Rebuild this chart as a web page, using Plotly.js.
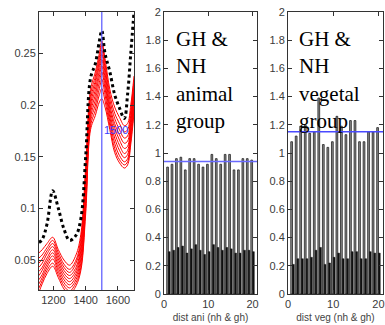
<!DOCTYPE html>
<html><head><meta charset="utf-8">
<script src="https://cdn.plot.ly/plotly-3.0.1.min.js"></script>
<style>html,body{margin:0;padding:0;background:#fff}#c{width:385px;height:325px}</style>
</head><body><div id="c"></div>
<script>
// Panel 1: spectra
const wavenumber = [1110,1130,1160,1195,1230,1265,1300,1340,1370,1400,1430,1460,1485,1500,1520,1550,1580,1610,1640,1660,1680,1700];
const meanSpectrum = [0.067,0.070,0.085,0.117,0.100,0.080,0.069,0.074,0.090,0.150,0.226,0.240,0.262,0.272,0.250,0.232,0.210,0.197,0.187,0.210,0.250,0.290];
const red1  = [0.057,0.060,0.066,0.072,0.060,0.050,0.045,0.055,0.075,0.140,0.215,0.232,0.250,0.262,0.245,0.215,0.198,0.188,0.180,0.182,0.200,0.228];
const red2  = [0.052,0.055,0.062,0.069,0.057,0.046,0.041,0.050,0.071,0.135,0.210,0.228,0.246,0.258,0.240,0.210,0.192,0.182,0.174,0.176,0.195,0.224];
const red3  = [0.047,0.051,0.059,0.066,0.054,0.043,0.038,0.047,0.067,0.130,0.205,0.224,0.242,0.253,0.236,0.205,0.187,0.176,0.168,0.170,0.190,0.220];
const red4  = [0.043,0.047,0.056,0.063,0.051,0.040,0.035,0.043,0.063,0.125,0.200,0.220,0.238,0.249,0.231,0.200,0.182,0.171,0.163,0.165,0.186,0.216];
const red5  = [0.039,0.043,0.052,0.060,0.048,0.037,0.032,0.040,0.059,0.120,0.196,0.215,0.233,0.244,0.226,0.196,0.178,0.166,0.158,0.160,0.182,0.212];
const red6  = [0.035,0.040,0.049,0.057,0.045,0.034,0.029,0.037,0.055,0.115,0.192,0.210,0.228,0.238,0.221,0.192,0.173,0.161,0.153,0.156,0.178,0.208];
const red7  = [0.031,0.036,0.046,0.054,0.042,0.031,0.026,0.034,0.051,0.110,0.188,0.205,0.222,0.232,0.216,0.188,0.168,0.156,0.149,0.152,0.174,0.204];
const red8  = [0.027,0.033,0.043,0.051,0.039,0.028,0.023,0.031,0.047,0.105,0.184,0.200,0.216,0.225,0.210,0.184,0.163,0.151,0.145,0.148,0.170,0.200];
const red9  = [0.023,0.030,0.040,0.047,0.036,0.025,0.020,0.028,0.043,0.100,0.180,0.195,0.210,0.216,0.204,0.180,0.158,0.147,0.142,0.145,0.166,0.196];
const red10 = [0.019,0.027,0.037,0.044,0.033,0.022,0.017,0.025,0.040,0.095,0.176,0.190,0.203,0.206,0.198,0.176,0.154,0.144,0.139,0.142,0.162,0.192];
const redCurves = [red1,red2,red3,red4,red5,red6,red7,red8,red9,red10];
const markerWavenumber = 1500;

// Panel 2 & 3: distances
const sampleIdx = [1,2,3,4,5,6,7,8,9,10,11,12,13,14,15,16,17,18,19,20];
const aniTall  = [0.90,0.92,0.96,0.97,0.88,0.96,0.96,0.92,0.90,0.92,0.99,0.96,0.92,0.99,0.99,0.88,0.88,0.96,0.96,0.95];
const aniShort = [0.30,0.31,0.33,0.34,0.29,0.32,0.35,0.31,0.28,0.30,0.35,0.33,0.31,0.33,0.32,0.29,0.29,0.31,0.31,0.30];
const aniThreshold = 0.94;
const vegTall  = [1.08,1.12,1.19,1.20,1.14,1.15,1.39,1.06,1.04,1.08,1.26,1.19,1.13,1.23,1.23,1.08,1.08,1.15,1.15,1.18];
const vegShort = [0.21,0.25,0.25,0.25,0.26,0.31,0.33,0.21,0.22,0.26,0.29,0.25,0.25,0.30,0.30,0.25,0.25,0.30,0.29,0.29];
const vegThreshold = 1.15;

const traces = [];
redCurves.forEach(c => traces.push({x: wavenumber, y: c, type:'scatter', mode:'lines',
  line:{color:'#ff0000', width:1, shape:'spline'}, xaxis:'x', yaxis:'y', showlegend:false, hoverinfo:'skip'}));
traces.push({x: wavenumber, y: meanSpectrum, type:'scatter', mode:'lines',
  line:{color:'#000', width:3, dash:'dot', shape:'spline'}, xaxis:'x', yaxis:'y', showlegend:false});

function bars(tall, short, xa, ya){
  traces.push({x: sampleIdx, y: tall, type:'bar', xaxis:xa, yaxis:ya, showlegend:false,
    marker:{color:'#8c8c8c', line:{color:'#222', width:0.8}}});
  traces.push({x: sampleIdx, y: short, type:'bar', xaxis:xa, yaxis:ya, showlegend:false,
    marker:{color:'#111', line:{color:'#111', width:0.5}}});
}
bars(aniTall, aniShort, 'x2', 'y2');
bars(vegTall, vegShort, 'x3', 'y3');

const axBase = {showgrid:false, zeroline:false, showline:true, mirror:'ticks', linecolor:'#333', linewidth:1,
  ticks:'inside', ticklen:4, tickcolor:'#333', tickfont:{family:'Liberation Sans, Arial', size:11, color:'#3a3a3a'}};

const W=385, H=325;
const dx = (a,b)=>[a/W, b/W];
const dy = (top,bot)=>[1-bot/H, 1-top/H];

const layout = {
  width:W, height:H, margin:{l:0,r:0,t:0,b:0}, paper_bgcolor:'#fff', plot_bgcolor:'#fff',
  barmode:'group', bargap:0.22, bargroupgap:0,
  xaxis: Object.assign({}, axBase, {domain:dx(39,134), range:[1110,1700], tickvals:[1200,1400,1600], anchor:'y'}),
  yaxis: Object.assign({}, axBase, {domain:dy(12,290), range:[0.021,0.29], tickvals:[0.05,0.1,0.15,0.2,0.25], anchor:'x'}),
  xaxis2: Object.assign({}, axBase, {domain:dx(164,257), range:[0,21], tickvals:[0,10,20], anchor:'y2',
    title:{text:'dist ani (nh &amp; gh)', font:{family:'Liberation Sans, Arial', size:10, color:'#444'}, standoff:4}}),
  yaxis2: Object.assign({}, axBase, {domain:dy(12,294), range:[0,2], dtick:0.2, anchor:'x2'}),
  xaxis3: Object.assign({}, axBase, {domain:dx(288,383), range:[0,21], tickvals:[0,10,20], anchor:'y3',
    title:{text:'dist veg (nh &amp; gh)', font:{family:'Liberation Sans, Arial', size:10, color:'#444'}, standoff:4}}),
  yaxis3: Object.assign({}, axBase, {domain:dy(12,294), range:[0,2], dtick:0.2, anchor:'x3'}),
  shapes:[
    {type:'line', xref:'x', yref:'y domain', x0:markerWavenumber, x1:markerWavenumber, y0:0, y1:1, line:{color:'#5555ff', width:1.2}},
    {type:'line', xref:'x2 domain', yref:'y2', x0:0, x1:1, y0:aniThreshold, y1:aniThreshold, line:{color:'#6a6aff', width:1.5}},
    {type:'line', xref:'x3 domain', yref:'y3', x0:0, x1:1, y0:vegThreshold, y1:vegThreshold, line:{color:'#4a4aff', width:1.5}}
  ],
  annotations:[
    {xref:'x', yref:'y', x:markerWavenumber, y:0.176, text:'1500', showarrow:false, xanchor:'left', yanchor:'middle',
      font:{family:'Liberation Sans, Arial', size:11, color:'#3b3bff'}},
    {xref:'paper', yref:'paper', x:174/W, y:1-25/H, xanchor:'left', yanchor:'top', align:'left', showarrow:false,
      text:'GH &amp;<br>NH<br>animal<br>group', font:{family:'Liberation Serif, Times New Roman', size:21, color:'#000'}},
    {xref:'paper', yref:'paper', x:297/W, y:1-25/H, xanchor:'left', yanchor:'top', align:'left', showarrow:false,
      text:'GH &amp;<br>NH<br>vegetal<br>group', font:{family:'Liberation Serif, Times New Roman', size:21, color:'#000'}}
  ]
};
Plotly.newPlot('c', traces, layout, {staticPlot:true, displayModeBar:false});
</script></body></html>
